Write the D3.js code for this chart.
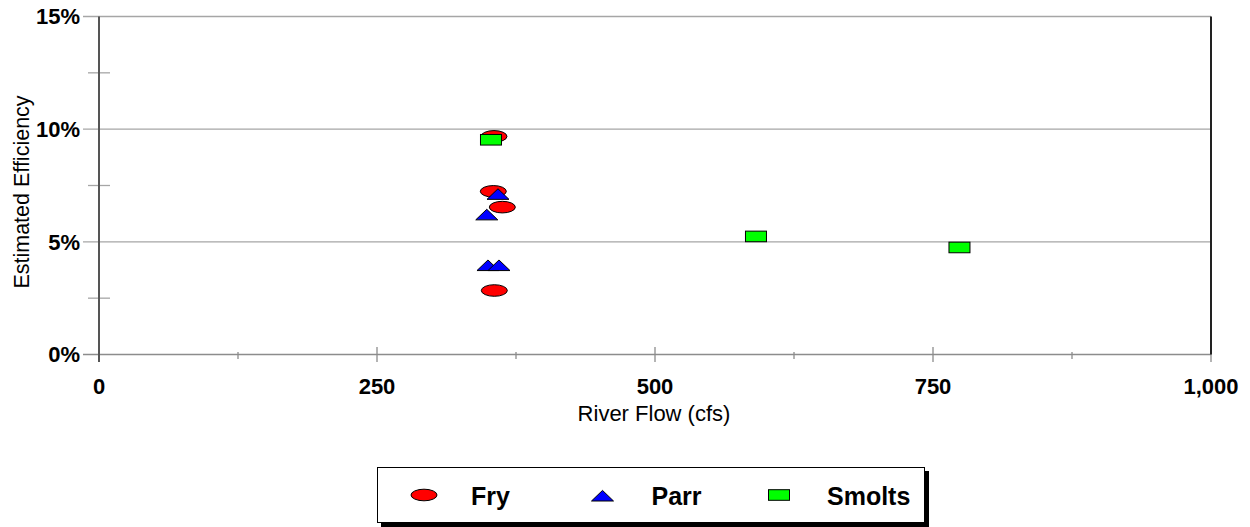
<!DOCTYPE html>
<html><head><meta charset="utf-8">
<script src="https://cdn.jsdelivr.net/npm/d3@7"></script>
<style>
body{margin:0;background:#fff;}
text{font-family:Arial,"Liberation Sans",sans-serif;}
</style></head>
<body><svg id="c" width="1250" height="527"></svg>
<script>
const fryFlow = [355.2, 354.6, 362.7, 355.5];
const fryEff = [9.68, 7.24, 6.54, 2.84];
const parrFlow = [358.8, 348.7, 349.8, 359.7];
const parrEff = [7.12, 6.21, 3.96, 3.96];
const smoltFlow = [352.5, 590.8, 773.8];
const smoltEff = [9.53, 5.24, 4.75];
const xTicks = [0, 250, 500, 750, 1000];
const xMinor = [125, 375, 625, 875];
const yTicks = [0, 5, 10, 15];
const yMinor = [2.5, 7.5, 12.5];
const seriesNames = ["Fry", "Parr", "Smolts"];

const svg = d3.select("#c");
const L = 99, R = 1211, T = 16.5, B = 354.5;
const x = d3.scaleLinear().domain([0, 1000]).range([L, R]);
const y = d3.scaleLinear().domain([0, 15]).range([B, T]);

svg.append("g").selectAll("line").data(yTicks.filter(d => d > 0)).join("line")
  .attr("x1", 83).attr("x2", R).attr("y1", d => y(d)).attr("y2", d => y(d))
  .attr("stroke", "#a6a6a6").attr("stroke-width", 1.3);
svg.append("g").selectAll("line").data(yMinor).join("line")
  .attr("x1", 88).attr("x2", 110).attr("y1", d => y(d)).attr("y2", d => y(d))
  .attr("stroke", "#a6a6a6").attr("stroke-width", 1.3);
svg.append("line").attr("x1", 83).attr("x2", R).attr("y1", B).attr("y2", B)
  .attr("stroke", "#8c8c8c").attr("stroke-width", 1.5);
svg.append("g").selectAll("line").data(xTicks.slice(1)).join("line")
  .attr("x1", d => x(d)).attr("x2", d => x(d)).attr("y1", 347).attr("y2", 362)
  .attr("stroke", "#8c8c8c").attr("stroke-width", 1.3);
svg.append("g").selectAll("line").data(xMinor).join("line")
  .attr("x1", d => x(d)).attr("x2", d => x(d)).attr("y1", 352).attr("y2", 359)
  .attr("stroke", "#8c8c8c").attr("stroke-width", 1.3);
svg.append("line").attr("x1", L).attr("x2", L).attr("y1", T).attr("y2", 362)
  .attr("stroke", "#555").attr("stroke-width", 2);
svg.append("line").attr("x1", R).attr("x2", R).attr("y1", T).attr("y2", B)
  .attr("stroke", "#222").attr("stroke-width", 2);

svg.append("g").selectAll("text").data(yTicks).join("text")
  .attr("x", 80).attr("y", d => y(d)).attr("dy", "0.36em")
  .attr("text-anchor", "end").attr("font-weight", "bold").attr("font-size", 22)
  .text(d => d + "%");
const fmt = d3.format(",");
svg.append("g").selectAll("text").data(xTicks).join("text")
  .attr("x", d => x(d)).attr("y", 394)
  .attr("text-anchor", "middle").attr("font-weight", "bold").attr("font-size", 22)
  .text(d => fmt(d));

svg.append("text").attr("x", 654).attr("y", 421).attr("text-anchor", "middle")
  .attr("font-size", 22).text("River Flow (cfs)");
svg.append("text").attr("transform", "translate(29,192) rotate(-90)")
  .attr("text-anchor", "middle").attr("font-size", 21.5).text("Estimated Efficiency");

function ellipse(g, cx, cy) {
  g.append("ellipse").attr("cx", cx).attr("cy", cy).attr("rx", 13).attr("ry", 5.8)
    .attr("fill", "#ff0000").attr("stroke", "#000").attr("stroke-width", 1);
}
function tri(g, cx, cy) {
  g.append("path").attr("d", `M${cx - 11},${cy + 5.3}L${cx},${cy - 5.3}L${cx + 11},${cy + 5.3}Z`)
    .attr("fill", "#0000ff").attr("stroke", "#000").attr("stroke-width", 1);
}
function rect(g, cx, cy) {
  g.append("rect").attr("x", cx - 10.5).attr("y", cy - 5.3).attr("width", 21).attr("height", 10.6)
    .attr("fill", "#00ff00").attr("stroke", "#000").attr("stroke-width", 1);
}
const gm = svg.append("g");
fryFlow.forEach((f, i) => ellipse(gm, x(f), y(fryEff[i])));
parrFlow.forEach((f, i) => tri(gm, x(f), y(parrEff[i])));
smoltFlow.forEach((f, i) => rect(gm, x(f), y(smoltEff[i])));

const lg = svg.append("g");
lg.append("rect").attr("x", 381).attr("y", 471).attr("width", 548).attr("height", 56).attr("fill", "#000");
lg.append("rect").attr("x", 377.5).attr("y", 467.5).attr("width", 547).attr("height", 55)
  .attr("fill", "#fff").attr("stroke", "#000").attr("stroke-width", 1);
const markerX = [424, 602.5, 779];
const textX = [471, 651.5, 827];
ellipse(lg, markerX[0], 495);
tri(lg, markerX[1], 495.7);
rect(lg, markerX[2], 495);
lg.selectAll("text.l").data(seriesNames).join("text").attr("class", "l")
  .attr("x", (d, i) => textX[i]).attr("y", 504.5)
  .attr("font-weight", "bold").attr("font-size", 25).text(d => d);
</script></body></html>
